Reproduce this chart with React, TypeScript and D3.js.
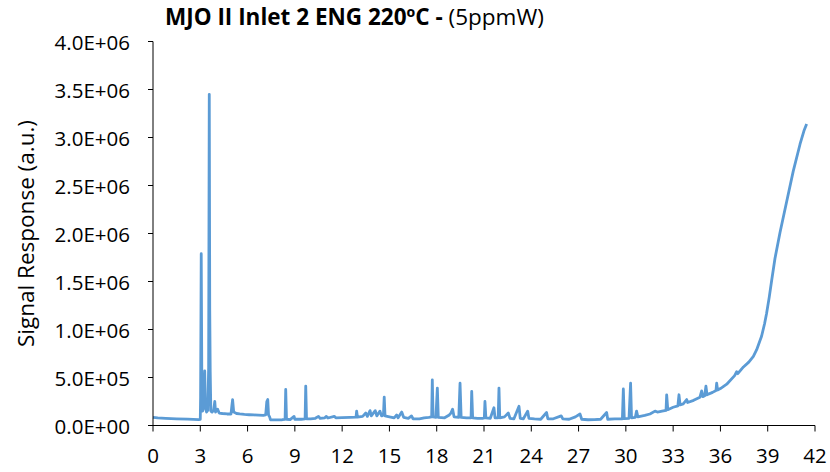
import React from "react";
import * as d3 from "d3";

const W = 830;
const H = 472;

const titleBold = "MJO II Inlet 2 ENG 220ºC - ";
const titleNormal = "(5ppmW)";
const yAxisLabel = "Signal Response (a.u.)";
const xTicks = [0, 3, 6, 9, 12, 15, 18, 21, 24, 27, 30, 33, 36, 39, 42];
const yTicks = [0, 5e5, 1e6, 1.5e6, 2e6, 2.5e6, 3e6, 3.5e6, 4e6];

// [time (min), signal]
const segStart: [number, number][] = [
  [0, 85e3], [0.3, 80e3], [0.8, 75e3], [1.5, 70e3], [2.2, 66e3], [2.9, 62e3], [3.0, 65e3],
];
const segEarlyPeaks: [number, number][] = [
  [3.02, 300e3], [3.06, 1790e3], [3.1, 400e3], [3.15, 150e3], [3.2, 200e3], [3.28, 570e3],
  [3.33, 180e3], [3.4, 140e3], [3.48, 160e3], [3.53, 600e3], [3.57, 3450e3], [3.6, 1200e3],
  [3.63, 560e3], [3.67, 150e3], [3.75, 140e3], [3.85, 160e3], [3.92, 250e3], [3.97, 140e3],
  [4.1, 170e3], [4.2, 130e3], [4.4, 125e3], [4.7, 120e3], [4.95, 120e3], [5.0, 200e3],
  [5.05, 270e3], [5.12, 140e3], [5.3, 125e3], [5.5, 120e3], [5.8, 115e3], [6.1, 112e3],
  [6.4, 110e3], [6.7, 108e3], [7.0, 105e3], [7.15, 110e3], [7.22, 250e3], [7.28, 270e3],
  [7.33, 110e3], [7.4, 90e3], [7.45, 60e3],
];
const segMiddle: [number, number][] = [
  [7.8, 58e3], [8.2, 60e3], [8.38, 65e3], [8.42, 375e3], [8.47, 65e3], [8.7, 62e3],
  [8.95, 95e3], [9.0, 65e3], [9.4, 65e3], [9.65, 70e3], [9.69, 410e3], [9.74, 70e3],
  [10.0, 70e3], [10.3, 75e3], [10.5, 95e3], [10.6, 75e3], [10.9, 80e3], [11.0, 95e3],
  [11.1, 78e3], [11.5, 95e3], [11.6, 80e3], [12.0, 82e3], [12.5, 85e3], [12.88, 88e3],
  [12.92, 150e3], [12.97, 88e3], [13.3, 95e3], [13.5, 130e3], [13.6, 95e3], [13.77, 155e3],
  [13.85, 100e3], [14.1, 155e3], [14.2, 100e3], [14.4, 150e3], [14.5, 100e3], [14.62, 110e3],
  [14.67, 295e3], [14.72, 100e3], [15.0, 90e3], [15.3, 80e3], [15.46, 110e3], [15.55, 80e3],
  [15.78, 140e3], [15.9, 85e3], [16.2, 75e3], [16.4, 100e3], [16.5, 70e3], [16.9, 70e3],
  [17.2, 80e3], [17.5, 85e3], [17.68, 90e3], [17.72, 475e3], [17.77, 90e3], [17.95, 85e3],
  [18.04, 390e3], [18.1, 85e3], [18.5, 80e3], [18.8, 110e3], [18.9, 130e3], [19.01, 170e3],
  [19.1, 90e3], [19.4, 85e3], [19.48, 440e3], [19.55, 85e3], [19.9, 80e3], [20.18, 80e3],
  [20.22, 355e3], [20.28, 80e3], [20.6, 75e3], [20.9, 75e3], [21.02, 80e3], [21.06, 250e3],
  [21.12, 80e3], [21.4, 75e3], [21.63, 185e3], [21.7, 80e3], [21.9, 80e3], [21.95, 390e3],
  [22.0, 80e3], [22.3, 90e3], [22.54, 130e3], [22.65, 75e3], [22.9, 70e3], [23.22, 200e3],
  [23.3, 75e3], [23.5, 70e3], [23.77, 150e3], [23.85, 75e3], [24.2, 68e3], [24.6, 65e3],
  [24.97, 135e3], [25.05, 70e3], [25.4, 70e3], [25.9, 100e3], [26.0, 68e3], [26.4, 65e3],
  [26.8, 90e3], [27.09, 120e3], [27.2, 65e3], [27.6, 60e3], [28.0, 62e3], [28.4, 65e3],
  [28.78, 135e3], [28.85, 65e3], [29.3, 68e3], [29.78, 70e3], [29.84, 380e3], [29.9, 72e3],
  [30.2, 75e3], [30.3, 440e3], [30.36, 80e3], [30.6, 85e3], [30.68, 150e3], [30.76, 90e3],
];
const segRise: [number, number][] = [
  [31.2, 105e3], [31.53, 120e3], [31.85, 150e3], [32.0, 140e3], [32.3, 150e3], [32.55, 158e3],
  [32.59, 320e3], [32.66, 165e3], [33.0, 190e3], [33.3, 205e3], [33.37, 320e3], [33.44, 215e3],
  [33.64, 226e3], [33.86, 270e3], [33.92, 240e3], [34.3, 262e3], [34.7, 295e3], [34.81, 360e3],
  [34.88, 300e3], [35.0, 310e3], [35.08, 410e3], [35.15, 320e3], [35.5, 345e3], [35.72, 365e3],
  [35.76, 440e3], [35.82, 370e3], [36.0, 385e3], [36.4, 430e3], [36.9, 520e3], [37.03, 560e3],
  [37.1, 540e3], [37.46, 610e3], [37.8, 660e3], [38.09, 720e3], [38.3, 790e3], [38.5, 880e3],
  [38.61, 930e3], [38.8, 1060e3], [38.93, 1170e3], [39.1, 1340e3], [39.25, 1510e3],
  [39.46, 1740e3], [39.78, 2010e3], [40.2, 2330e3], [40.62, 2650e3], [41.05, 2930e3],
  [41.3, 3070e3], [41.47, 3140e3],
];

const series = [...segStart, ...segEarlyPeaks, ...segMiddle, ...segRise];

const FONT = "'Open Sans', sans-serif";

export default function App() {
  const left = 153;
  const right = 815;
  const top = 41.5;
  const bottom = 425.5;

  const x = d3.scaleLinear().domain([0, 42]).range([left, right]);
  const y = d3.scaleLinear().domain([0, 4e6]).range([bottom, top]);
  const line = d3
    .line<[number, number]>()
    .x((d) => x(d[0]))
    .y((d) => y(d[1]));

  const fmt = (v: number) => {
    const s = v.toExponential(1).toUpperCase();
    const m = s.match(/^(.*)E([+-])(\d+)$/);
    if (!m) return s;
    return `${m[1]}E${m[2]}${m[3].padStart(2, "0")}`;
  };

  return (
    <div style={{ position: "absolute", left: 0, top: 0 }}>
      <svg width={W} height={H} style={{ display: "block", background: "#fff" }}>
        <text x={165} y={25} fontFamily={FONT} fontSize={22.5} fill="#000">
          <tspan fontWeight="bold">{titleBold}</tspan>
          <tspan>{titleNormal}</tspan>
        </text>

        <text
          transform={`translate(25,${(top + bottom) / 2}) rotate(-90)`}
          textAnchor="middle"
          dominantBaseline="central"
          fontFamily={FONT}
          fontSize={22.5}
          fill="#000"
        >
          {yAxisLabel}
        </text>

        {yTicks.map((t) => (
          <g key={t}>
            <line x1={left - 5} x2={left} y1={y(t)} y2={y(t)} stroke="#000" strokeWidth={1} />
            <text
              x={130}
              y={y(t)}
              textAnchor="end"
              dominantBaseline="central"
              fontFamily={FONT}
              fontSize={20.5}
              fill="#000"
            >
              {fmt(t)}
            </text>
          </g>
        ))}

        {xTicks.map((t) => (
          <g key={t}>
            <line x1={x(t)} x2={x(t)} y1={bottom} y2={bottom + 6} stroke="#000" strokeWidth={1} />
            <text
              x={x(t)}
              y={463}
              textAnchor="middle"
              fontFamily={FONT}
              fontSize={20.5}
              fill="#000"
            >
              {t}
            </text>
          </g>
        ))}

        <path d={line(series) ?? ""} fill="none" stroke="#5B9BD5" strokeWidth={2.8} strokeLinejoin="round" />

        <line x1={left} x2={left} y1={top} y2={bottom} stroke="#000" strokeWidth={1} />
        <line x1={left} x2={right} y1={bottom} y2={bottom} stroke="#000" strokeWidth={1} />
      </svg>
    </div>
  );
}
